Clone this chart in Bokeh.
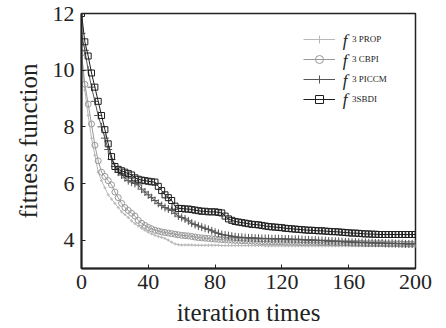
from bokeh.plotting import figure
from bokeh.models import Legend, LegendItem, Label, Range1d, FixedTicker
from bokeh.embed import file_html
from bokeh.resources import INLINE

iterations = list(range(0, 201, 2))

f3_sbdi = [12.0, 11.0, 10.5, 9.9, 9.4, 8.9, 8.4, 7.9, 7.4, 6.95,
           6.6, 6.5, 6.45, 6.4, 6.35, 6.3, 6.2, 6.15, 6.12, 6.1,
           6.08, 6.06, 6.05, 5.9, 5.75, 5.6, 5.5, 5.4, 5.2, 5.12,
           5.12, 5.1, 5.1, 5.08, 5.06, 5.04, 5.02, 5.02, 5.0, 5.0,
           5.0, 4.98, 4.96, 4.85, 4.75, 4.7, 4.66, 4.64, 4.62, 4.6,
           4.58, 4.56, 4.55, 4.54, 4.52, 4.5, 4.48, 4.47, 4.46, 4.45,
           4.44, 4.42, 4.41, 4.4, 4.39, 4.38, 4.37, 4.36, 4.35, 4.35,
           4.34, 4.33, 4.33, 4.32, 4.31, 4.3, 4.3, 4.29, 4.28, 4.27,
           4.26, 4.25, 4.25, 4.24, 4.23, 4.22, 4.22, 4.21, 4.21, 4.2,
           4.2, 4.2, 4.2, 4.2, 4.2, 4.2, 4.2, 4.2, 4.2, 4.2, 4.2]

f3_piccm = [11.3, 10.7, 10.0, 9.4, 8.9, 8.4, 8.0, 7.6, 7.2, 6.85,
            6.6, 6.4, 6.3, 6.2, 6.1, 6.05, 6.0, 5.95, 5.8, 5.7,
            5.6, 5.5, 5.4, 5.3, 5.22, 5.15, 5.1, 5.05, 4.95, 4.85,
            4.8, 4.75, 4.68, 4.6, 4.55, 4.5, 4.46, 4.42, 4.38, 4.33,
            4.28, 4.24, 4.2, 4.18, 4.16, 4.14, 4.12, 4.1, 4.1, 4.09,
            4.08, 4.08, 4.07, 4.07, 4.06, 4.06, 4.06, 4.05, 4.05, 4.05,
            4.05, 4.04, 4.04, 4.03, 4.03, 4.03, 4.02, 4.01, 4.01, 4.0,
            4.0, 3.99, 3.99, 3.98, 3.97, 3.97, 3.96, 3.96, 3.95, 3.94,
            3.94, 3.93, 3.93, 3.92, 3.92, 3.92, 3.91, 3.91, 3.9, 3.9,
            3.9, 3.89, 3.89, 3.89, 3.88, 3.88, 3.88, 3.87, 3.87, 3.87, 3.87]

f3_cbpi = [10.6, 9.5, 8.8, 8.1, 7.35, 6.8, 6.4, 6.25, 6.1, 5.95,
           5.7, 5.5, 5.3, 5.15, 5.05, 4.95, 4.85, 4.7, 4.6, 4.52,
           4.45, 4.4, 4.35, 4.32, 4.29, 4.27, 4.25, 4.23, 4.21, 4.19,
           4.17, 4.16, 4.15, 4.13, 4.11, 4.09, 4.08, 4.07, 4.06, 4.05,
           4.04, 4.03, 4.02, 4.01, 4.0, 4.0, 3.99, 3.99, 3.98, 3.98,
           3.97, 3.97, 3.96, 3.96, 3.95, 3.95, 3.95, 3.94, 3.94, 3.94,
           3.94, 3.93, 3.93, 3.93, 3.93, 3.92, 3.92, 3.92, 3.92, 3.92,
           3.92, 3.91, 3.91, 3.91, 3.91, 3.9, 3.9, 3.9, 3.9, 3.9,
           3.9, 3.89, 3.89, 3.89, 3.89, 3.88, 3.88, 3.88, 3.88, 3.88,
           3.88, 3.87, 3.87, 3.87, 3.87, 3.87, 3.86, 3.86, 3.86, 3.86, 3.86]

f3_prop = [10.5, 9.3, 8.4, 7.6, 7.0, 6.4, 6.1, 5.85, 5.6, 5.45,
           5.3, 5.15, 5.0, 4.9, 4.8, 4.68, 4.58, 4.5, 4.42, 4.35,
           4.28, 4.22, 4.17, 4.13, 4.1, 4.06, 4.0, 3.93, 3.87, 3.84,
           3.83, 3.83, 3.83, 3.83, 3.82, 3.82, 3.82, 3.82, 3.82, 3.82,
           3.82, 3.82, 3.81, 3.81, 3.81, 3.81, 3.81, 3.81, 3.81, 3.81,
           3.81, 3.81, 3.81, 3.81, 3.81, 3.8, 3.8, 3.8, 3.8, 3.8,
           3.8, 3.8, 3.8, 3.8, 3.8, 3.8, 3.8, 3.8, 3.8, 3.8,
           3.8, 3.8, 3.8, 3.8, 3.8, 3.8, 3.8, 3.8, 3.8, 3.8,
           3.8, 3.8, 3.8, 3.8, 3.8, 3.8, 3.8, 3.8, 3.8, 3.8,
           3.8, 3.8, 3.8, 3.8, 3.8, 3.8, 3.8, 3.8, 3.8, 3.8, 3.8]

x_ticks = [0, 40, 80, 120, 160, 200]
y_ticks = [4, 6, 8, 10, 12]
subscripts = ["3 PROP", "3 CBPI", "3 PICCM", "3SBDI"]

FONT = "Liberation Serif"

p = figure(width=446, height=328, output_backend="svg", toolbar_location=None,
           x_range=Range1d(0, 200), y_range=Range1d(3, 12),
           min_border_left=81, min_border_right=31, min_border_top=13, min_border_bottom=59)
p.background_fill_color = "white"
p.border_fill_color = "white"
p.outline_line_color = "#222222"
p.outline_line_width = 1.5
p.xgrid.visible = False
p.ygrid.visible = False

for ax in (p.xaxis[0], p.yaxis[0]):
    ax.axis_line_color = "#222222"
    ax.axis_line_width = 2
    ax.major_tick_in = 4
    ax.major_tick_out = 0
    ax.major_tick_line_color = "#222222"
    ax.minor_tick_line_color = None
    ax.major_label_text_font = FONT
    ax.major_label_text_font_size = "22px"
    ax.major_label_text_color = "#222222"
    ax.axis_label_text_font = FONT
    ax.axis_label_text_font_size = "25px"
    ax.axis_label_text_font_style = "normal"
    ax.axis_label_text_color = "#222222"

p.xaxis.ticker = FixedTicker(ticks=x_ticks)
p.yaxis.ticker = FixedTicker(ticks=y_ticks)
p.xaxis.axis_label = "iteration times"
p.yaxis.axis_label = "fitness function"
p.xaxis.major_label_standoff = 6
p.yaxis.major_label_standoff = 7
p.xaxis.axis_label_standoff = 7
p.yaxis.axis_label_standoff = 8

styles = [
    (f3_prop, "#b8b8b8", "cross", 3, 1.0),
    (f3_cbpi, "#999999", "circle", 6, 1.0),
    (f3_piccm, "#555555", "cross", 8, 1.0),
    (f3_sbdi, "#1e1e1e", "square", 6, 1.0),
]

items = []
for (vals, color, marker, size, lw), sub in zip(styles, subscripts):
    r1 = p.line(iterations, vals, line_color=color, line_width=lw)
    r2 = p.scatter(iterations, vals, marker=marker, size=size, line_color=color,
                   fill_color=None, line_width=1)
    items.append(LegendItem(label=sub, renderers=[r1, r2]))

legend = Legend(items=items, location=(222, 159), orientation="vertical",
                border_line_color=None, background_fill_alpha=0,
                padding=0, spacing=0, margin=0,
                glyph_width=32, glyph_height=20, label_height=20,
                label_standoff=17, label_text_font=FONT,
                label_text_font_size="9px", label_text_color="#222222",
                label_text_baseline="top")
p.add_layout(legend)

f_rows = [11.05, 10.35, 9.65, 8.95]
for yv in f_rows:
    p.add_layout(Label(x=156.5, y=yv, text="f", text_font=FONT,
                       text_font_style="italic", text_font_size="17px",
                       text_baseline="middle", text_color="#222222"))

open("out.html", "w").write(file_html(p, INLINE))
